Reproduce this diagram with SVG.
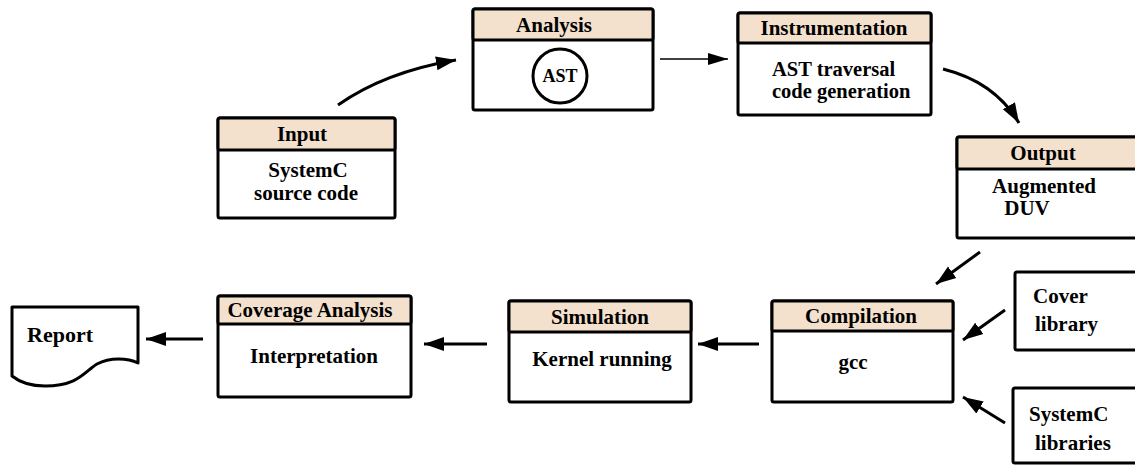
<svg xmlns="http://www.w3.org/2000/svg" width="1135" height="466" viewBox="0 0 1135 466">
  <style>
    .frame { fill: #ffffff; stroke: #000000; stroke-width: 3; stroke-linejoin: round; }
    .head { fill: #f3e0cd; stroke: #000000; stroke-width: 3; stroke-linejoin: round; }
    .lbl { font-family: "Liberation Serif", "Times New Roman", serif; font-weight: bold; font-size: 21px; fill: #000000; }
    .mid { text-anchor: middle; }
    .flow { fill: none; stroke: #000000; stroke-width: 3; }
    .thin { fill: none; stroke: #000000; stroke-width: 1.6; }
  </style>
  <defs>
    <marker id="head" markerUnits="userSpaceOnUse" markerWidth="22" markerHeight="16" refX="20" refY="8" orient="auto">
      <path d="M0,1 L20,8 L0,15 Z" fill="#000000"/>
    </marker>
    <marker id="headThin" markerUnits="userSpaceOnUse" markerWidth="22" markerHeight="14" refX="20" refY="7" orient="auto">
      <path d="M0,1 L20,7 L0,13 Z" fill="#000000"/>
    </marker>
  </defs>

  <rect width="1135" height="466" fill="#ffffff"/>

  <!-- connectors -->
  <g id="connectors">
    <path class="flow" d="M338,105 Q385,72 456,60" marker-end="url(#head)"/>
    <path class="thin" d="M660,59 L728,59" marker-end="url(#headThin)"/>
    <path class="flow" d="M943,69 Q995,82 1019,123" marker-end="url(#head)"/>
    <path class="flow" d="M980,252 L936,284" marker-end="url(#head)"/>
    <path class="flow" d="M1005,310 L963,340" marker-end="url(#head)"/>
    <path class="flow" d="M1005,423 L963,397" marker-end="url(#head)"/>
    <path class="flow" d="M759,344 L698,344" marker-end="url(#head)"/>
    <path class="flow" d="M487,344 L424,344" marker-end="url(#head)"/>
    <path class="flow" d="M203,339 L146,339" marker-end="url(#head)"/>
  </g>

  <!-- input -->
  <g id="input">
    <rect class="frame" x="218" y="118" width="177" height="100" rx="2"/>
    <rect class="head" x="218" y="118" width="177" height="32" rx="2"/>
    <text class="lbl mid" x="302" y="141">Input</text>
    <text class="lbl mid" x="308" y="177">SystemC</text>
    <text class="lbl mid" x="306" y="200">source code</text>
  </g>

  <!-- analysis -->
  <g id="analysis">
    <rect class="frame" x="473" y="9" width="180" height="101" rx="2"/>
    <rect class="head" x="473" y="9" width="180" height="31" rx="2"/>
    <text class="lbl mid" x="554" y="32">Analysis</text>
    <circle cx="560" cy="76" r="27" fill="#ffffff" stroke="#000000" stroke-width="3"/>
    <text class="lbl mid" x="560" y="82" style="font-size:18px">AST</text>
  </g>

  <!-- instrumentation -->
  <g id="instrumentation">
    <rect class="frame" x="738" y="13" width="193" height="102" rx="2"/>
    <rect class="head" x="738" y="13" width="193" height="30" rx="2"/>
    <text class="lbl mid" x="834" y="35">Instrumentation</text>
    <text class="lbl" x="772" y="76" style="font-size:20.5px">AST traversal</text>
    <text class="lbl" x="772" y="98" style="font-size:20.5px">code generation</text>
  </g>

  <!-- output -->
  <g id="output">
    <rect class="frame" x="957" y="137" width="190" height="101" rx="2"/>
    <rect class="head" x="957" y="137" width="190" height="32" rx="2"/>
    <text class="lbl mid" x="1043" y="160">Output</text>
    <text class="lbl mid" x="1044" y="193">Augmented</text>
    <text class="lbl mid" x="1027" y="215">DUV</text>
  </g>

  <!-- cover library -->
  <g id="cover-library">
    <rect class="frame" x="1015" y="272" width="130" height="78" rx="2"/>
    <text class="lbl" x="1033" y="303">Cover</text>
    <text class="lbl" x="1035" y="331">library</text>
  </g>

  <!-- systemc libraries -->
  <g id="systemc-libraries">
    <rect class="frame" x="1013" y="388" width="132" height="75" rx="2"/>
    <text class="lbl" x="1029" y="421">SystemC</text>
    <text class="lbl" x="1035" y="450">libraries</text>
  </g>

  <!-- compilation -->
  <g id="compilation">
    <rect class="frame" x="772" y="301" width="181" height="101" rx="2"/>
    <rect class="head" x="772" y="301" width="181" height="30" rx="2"/>
    <text class="lbl mid" x="861" y="323">Compilation</text>
    <text class="lbl mid" x="853" y="369">gcc</text>
  </g>

  <!-- simulation -->
  <g id="simulation">
    <rect class="frame" x="509" y="301" width="182" height="101" rx="2"/>
    <rect class="head" x="509" y="301" width="182" height="31" rx="2"/>
    <text class="lbl mid" x="600" y="324">Simulation</text>
    <text class="lbl mid" x="602" y="366">Kernel running</text>
  </g>

  <!-- coverage analysis -->
  <g id="coverage-analysis">
    <rect class="frame" x="218" y="296" width="193" height="101" rx="2"/>
    <rect class="head" x="218" y="296" width="193" height="28" rx="2"/>
    <text class="lbl mid" x="310" y="317">Coverage Analysis</text>
    <text class="lbl mid" x="314" y="363">Interpretation</text>
  </g>

  <!-- report -->
  <g id="report">
    <path class="frame" d="M12,307 H138 V363 C128,358 110,357 97,364 C84,372 78,386 45,386 C28,386 17,380 12,376 Z"/>
    <text class="lbl" x="27" y="342" style="font-size:22px">Report</text>
  </g>
</svg>
